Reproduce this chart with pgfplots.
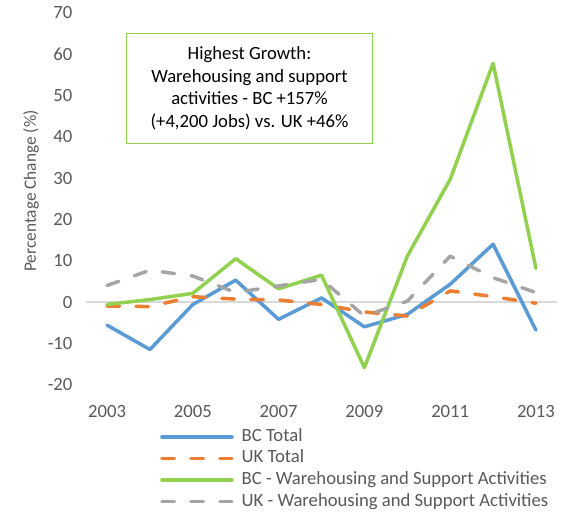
\documentclass[border=0pt]{standalone}
\usepackage{pgfplots}
\pgfplotsset{compat=1.18}
\usepackage{fontspec}
\setmainfont{Carlito}
\definecolor{cblue}{HTML}{5B9BD5}
\definecolor{corange}{HTML}{ED7D31}
\definecolor{cgreen}{HTML}{92D050}
\definecolor{cgrey}{HTML}{A5A5A5}
\definecolor{ctext}{HTML}{595959}
\definecolor{czero}{HTML}{D9D9D9}
\begin{document}
\begin{tikzpicture}[x=1pt,y=1pt]
\useasboundingbox (0,0) rectangle (568,512);
\begin{axis}[
  at={(85.6pt,127.4pt)}, anchor=south west,
  scale only axis, width=471.8pt, height=371.6pt,
  xmin=2002.5, xmax=2013.5, ymin=-20, ymax=70,
  xtick={2003,2005,2007,2009,2011,2013},
  ytick={-20,-10,0,10,20,30,40,50,60,70},
  /pgf/number format/.cd, set thousands separator={}, assume math mode=true,
  /pgfplots/.cd,
  axis line style={draw=none},
  major tick length=0pt,
  tick label style={font=\fontsize{18.67}{22}\selectfont, text=ctext, inner sep=0pt},
  yticklabel style={anchor=east, xshift=-13pt},
  xticklabel style={anchor=north, yshift=-20.4pt},
  extra y ticks={0}, extra y tick labels={},
  extra y tick style={ymajorgrids=true, grid style={czero, line width=1.3pt}},
  clip=false,
  legend style={at={(0.1577,-0.117)}, anchor=north west, draw=none, fill=none,
    inner sep=0pt, font=\fontsize{18.67}{22}\selectfont, text=ctext,
    row sep=4.6pt, cells={anchor=west},
    nodes={inner sep=0pt, text height=13pt, text depth=4pt},
    /tikz/every odd column/.append style={column sep=8pt}},
  legend image code/.code={\draw[#1] (0pt,0pt) -- (70pt,0pt);},
  every axis plot/.append style={line width=3.5pt, line join=round},
]
\addplot[cblue, line cap=round] coordinates {
(2003,-5.6) (2004,-11.5) (2005,-0.6) (2006,5.3) (2007,-4.2) (2008,1.0)
(2009,-6.0) (2010,-3.0) (2011,4.3) (2012,14.0) (2013,-6.8)};
\addlegendentry{BC Total}
\addplot[corange, line cap=round, dash pattern=on 12.5pt off 16.5pt] coordinates {
(2003,-1.0) (2004,-1.1) (2005,1.3) (2006,0.7) (2007,0.5) (2008,-0.6)
(2009,-2.4) (2010,-3.4) (2011,2.7) (2012,1.3) (2013,-0.3)};
\addlegendentry{UK Total}
\addplot[cgreen, line cap=round] coordinates {
(2003,-0.6) (2004,0.6) (2005,2.1) (2006,10.5) (2007,3.2) (2008,6.5)
(2009,-15.9) (2010,11.1) (2011,29.7) (2012,57.8) (2013,8.1)};
\addlegendentry{BC - Warehousing and Support Activities}
\addplot[cgrey, line cap=round, dash pattern=on 12.5pt off 16.5pt] coordinates {
(2003,4.0) (2004,7.7) (2005,6.3) (2006,2.3) (2007,3.9) (2008,5.5)
(2009,-3.4) (2010,0.2) (2011,11.1) (2012,5.9) (2013,2.3)};
\addlegendentry{UK - Warehousing and Support Activities}
\end{axis}
\node[rotate=90, text=ctext, font=\fontsize{17.3}{20}\selectfont, inner sep=0pt] at (31,321) {Percentage Change (\%)};
\node[draw=cgreen, line width=1.5pt, minimum width=246pt, minimum height=110pt,
  align=center, font=\fontsize{18.67}{22.6}\selectfont, text=black, inner sep=0pt]
  at (249.5,423.5) {Highest Growth:\\Warehousing and support\\activities - BC +157\%\\(+4,200 Jobs) vs. UK +46\%};
\end{tikzpicture}
\end{document}
